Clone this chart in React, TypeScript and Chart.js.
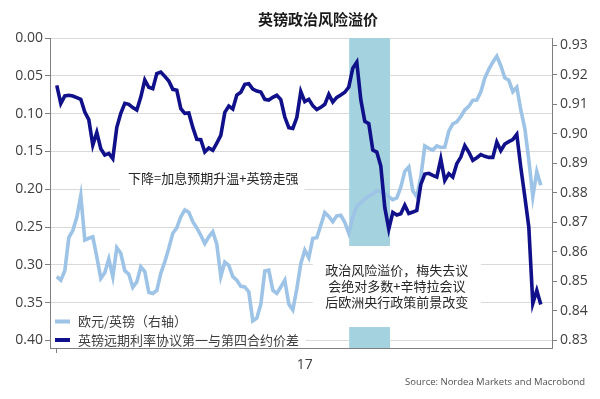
import { useEffect, useRef } from 'react';
import { Chart, registerables } from 'chart.js';

Chart.register(...registerables);

const CJK = '"Noto Sans CJK SC", "Noto Sans", sans-serif';
const NUM = '"Open Sans", "Noto Sans", sans-serif';
const NARROW = '"Liberation Sans Narrow", "Open Sans", sans-serif';

const TITLE = '英镑政治风险溢价';
const NAME_LIGHT = '欧元/英镑（右轴）';
const NAME_DARK = '英镑远期利率协议第一与第四合约价差';
const NOTE_1 = '下降=加息预期升温+英镑走强';
const NOTE_2 = ['政治风险溢价，梅失去议', '会绝对多数+辛特拉会议', '后欧洲央行政策前景改变'];
const SOURCE = 'Source: Nordea Markets and Macrobond';

const LEFT_TICKS = [0, 0.05, 0.1, 0.15, 0.2, 0.25, 0.3, 0.35, 0.4];
const RIGHT_TICKS = [0.83, 0.84, 0.85, 0.86, 0.87, 0.88, 0.89, 0.9, 0.91, 0.92, 0.93];
const X_TICKS = [0, 62];
const X_TICK_LABELS = ['', '17'];
const BAND = [73.1, 83.3];

// FRA 1st - 4th contract spread (left axis, reversed)
const SPREAD = [
  0.0626, 0.0868, 0.0767, 0.0758, 0.0767, 0.0789, 0.0811, 0.0979, 0.1080, 0.1416,
  0.1248, 0.1464, 0.1548, 0.1526, 0.1596, 0.1182, 0.0996, 0.0864, 0.0877, 0.0921,
  0.0953, 0.0781, 0.0556, 0.0652, 0.0670, 0.0471, 0.0450, 0.0507, 0.0569, 0.0679,
  0.0692, 0.0934, 0.0996, 0.0992, 0.1182, 0.1340, 0.1345, 0.1508, 0.1455, 0.1486,
  0.1389, 0.1287, 0.0983, 0.0900, 0.0939, 0.0754, 0.0718, 0.0613, 0.0604, 0.0675,
  0.0701, 0.0714, 0.0811, 0.0820, 0.0785, 0.0758, 0.0815, 0.1045, 0.1186, 0.1195,
  0.1053, 0.0709, 0.0842, 0.0811, 0.0895, 0.0947, 0.0917, 0.0877, 0.0745, 0.0847,
  0.0785, 0.0754, 0.0718, 0.0648, 0.0400, 0.0320, 0.0815, 0.1102, 0.1133, 0.1482,
  0.1508, 0.1694, 0.2244, 0.2527, 0.2306, 0.2342, 0.2324, 0.2210, 0.2320, 0.2302,
  0.2280, 0.1936, 0.1800, 0.1790, 0.1817, 0.1839, 0.1601, 0.1883, 0.1794, 0.1839,
  0.1662, 0.1575, 0.1424, 0.1508, 0.1618, 0.1583, 0.1543, 0.1565, 0.1579, 0.1579,
  0.1376, 0.1490, 0.1403, 0.1371, 0.1345, 0.1274, 0.1711, 0.2095, 0.2500, 0.3510,
  0.3338, 0.3524,
];

// EUR/GBP (right axis)
const EURGBP = [
  0.8515, 0.8503, 0.8535, 0.8647, 0.8671, 0.8716, 0.8790, 0.8639, 0.8645, 0.8650,
  0.8582, 0.8509, 0.8528, 0.8575, 0.8515, 0.8613, 0.8594, 0.8535, 0.8523, 0.8479,
  0.8497, 0.8548, 0.8532, 0.8462, 0.8458, 0.8468, 0.8526, 0.8565, 0.8611, 0.8662,
  0.8680, 0.8718, 0.8741, 0.8733, 0.8701, 0.8680, 0.8655, 0.8627, 0.8650, 0.8667,
  0.8625, 0.8516, 0.8564, 0.8553, 0.8515, 0.8503, 0.8482, 0.8480, 0.8463, 0.8365,
  0.8374, 0.8421, 0.8534, 0.8537, 0.8469, 0.8458, 0.8480, 0.8503, 0.8422, 0.8402,
  0.8473, 0.8559, 0.8605, 0.8579, 0.8645, 0.8647, 0.8689, 0.8732, 0.8719, 0.8701,
  0.8721, 0.8723, 0.8699, 0.8662, 0.8717, 0.8753, 0.8765, 0.8778, 0.8788, 0.8796,
  0.8807, 0.8803, 0.8795, 0.8786, 0.8776, 0.8782, 0.8818, 0.8872, 0.8887, 0.8806,
  0.8786, 0.8853, 0.8958, 0.8950, 0.8944, 0.8958, 0.8953, 0.8954, 0.9008, 0.9033,
  0.9040, 0.9058, 0.9080, 0.9092, 0.9113, 0.9114, 0.9141, 0.9188, 0.9218, 0.9242,
  0.9262, 0.9230, 0.9189, 0.9181, 0.9142, 0.9157, 0.9080, 0.9018, 0.8911, 0.8786,
  0.8871, 0.8825,
];

const DARK = '#10108a';
const LIGHT = '#9dc3e6';
const BAND_COLOR = '#a5d2df';
const AXIS = '#7f7f7f';
const GRID = '#d9d9d9';
const TEXT = '#262626';

const decor = {
  id: 'decor',
  beforeDatasetsDraw(chart: any) {
    const { ctx, chartArea, scales } = chart;
    const x = scales.x;
    const yl = scales.yLeft;
    ctx.save();
    // shaded period
    const bx0 = x.getPixelForValue(BAND[0]);
    const bx1 = x.getPixelForValue(BAND[1]);
    ctx.fillStyle = BAND_COLOR;
    ctx.fillRect(bx0, chartArea.top, bx1 - bx0, chartArea.bottom - chartArea.top);

    // note 1 box + text
    const n1x = x.getPixelForValue(17.8);
    const n1y = yl.getPixelForValue(0.185);
    ctx.font = `13px ${CJK}`;
    const w1 = ctx.measureText(NOTE_1).width;
    ctx.fillStyle = '#ffffff';
    ctx.fillRect(n1x - 8, n1y - 15, w1 + 14, 30);
    ctx.fillStyle = TEXT;
    ctx.textAlign = 'left';
    ctx.textBaseline = 'middle';
    ctx.fillText(NOTE_1, n1x, n1y);

    // note 2 box + text
    const n2x = x.getPixelForValue(85);
    const n2y = yl.getPixelForValue(0.328);
    ctx.fillStyle = '#ffffff';
    ctx.fillRect(n2x - 84, n2y - 40, 168, 81);
    ctx.fillStyle = TEXT;
    ctx.textAlign = 'center';
    NOTE_2.forEach((line, k) => ctx.fillText(line, n2x, n2y + (k - 1) * 16));

    // legend box
    const lx = chartArea.left;
    ctx.fillStyle = '#ffffff';
    ctx.fillRect(lx + 1, 312, 255, chartArea.bottom - 312 - 1);
    const rows = [
      { name: NAME_LIGHT, color: LIGHT, y: 321.5 },
      { name: NAME_DARK, color: DARK, y: 340 },
    ];
    rows.forEach((r) => {
      ctx.strokeStyle = r.color;
      ctx.lineWidth = 4;
      ctx.beginPath();
      ctx.moveTo(lx + 5, r.y);
      ctx.lineTo(lx + 20, r.y);
      ctx.stroke();
      ctx.fillStyle = '#404040';
      ctx.textAlign = 'left';
      ctx.textBaseline = 'middle';
      ctx.font = `13px ${CJK}`;
      ctx.fillText(r.name, lx + 28, r.y);
    });
    ctx.restore();
  },
  afterDraw(chart: any) {
    const { ctx } = chart;
    ctx.save();
    ctx.fillStyle = '#1a1a1a';
    ctx.font = `bold 15px ${CJK}`;
    ctx.textAlign = 'center';
    ctx.textBaseline = 'middle';
    ctx.fillText(TITLE, 318, 19);

    ctx.font = `12px ${NARROW}`;
    const mw = ctx.measureText(SOURCE).width;
    const size = (12 * 180) / mw;
    ctx.font = `${size.toFixed(2)}px ${NARROW}`;
    ctx.fillStyle = '#505050';
    ctx.textAlign = 'left';
    ctx.fillText(SOURCE, 405, 382);
    ctx.restore();
  },
};

export default function App() {
  const ref = useRef<HTMLCanvasElement>(null);
  useEffect(() => {
    const canvas = ref.current as HTMLCanvasElement;
    const chart = new Chart(canvas, {
      type: 'line',
      data: {
        datasets: [
          {
            label: NAME_DARK,
            data: SPREAD.map((v, i) => ({ x: i, y: v })),
            yAxisID: 'yLeft',
            borderColor: DARK,
            borderWidth: 3.6,
            pointRadius: 0,
            tension: 0,
          },
          {
            label: NAME_LIGHT,
            data: EURGBP.map((v, i) => ({ x: i, y: v })),
            yAxisID: 'yRight',
            borderColor: LIGHT,
            borderWidth: 3.6,
            pointRadius: 0,
            tension: 0,
          },
        ],
      },
      options: {
        animation: false,
        responsive: false,
        devicePixelRatio: 1,
        events: [],
        layout: { padding: { top: 38, left: 0, right: 0, bottom: 0 } },
        plugins: {
          legend: { display: false },
          title: { display: false },
          tooltip: { enabled: false },
        },
        scales: {
          x: {
            type: 'linear',
            min: -1.7,
            max: 123.8,
            afterBuildTicks: (s: any) => {
              s.ticks = X_TICKS.map((v) => ({ value: v }));
            },
            afterFit: (s: any) => {
              s.height = 51;
            },
            ticks: {
              autoSkip: false,
              maxRotation: 0,
              padding: 4,
              color: '#404040',
              font: { family: NUM, size: 14 },
              callback: (v: any) => X_TICK_LABELS[X_TICKS.indexOf(Number(v))] ?? '',
            },
            grid: {
              drawOnChartArea: false,
              drawTicks: true,
              tickLength: 5,
              tickColor: (c: any) => (c.index === 0 ? AXIS : 'rgba(0,0,0,0)'),
            },
            border: { display: true, color: AXIS, width: 1 },
          },
          yLeft: {
            type: 'linear',
            position: 'left',
            reverse: true,
            min: 0,
            max: 0.41,
            afterBuildTicks: (s: any) => {
              s.ticks = LEFT_TICKS.map((v) => ({ value: v }));
            },
            afterFit: (s: any) => {
              s.width = 50;
            },
            ticks: {
              padding: 2,
              color: '#404040',
              font: { family: NUM, size: 14 },
              callback: (v: any) => Number(v).toFixed(2),
            },
            grid: { color: GRID, lineWidth: 1, tickLength: 5, tickColor: AXIS },
            border: { display: true, color: AXIS, width: 1 },
          },
          yRight: {
            type: 'linear',
            position: 'right',
            min: 0.8273,
            max: 0.9324,
            afterBuildTicks: (s: any) => {
              s.ticks = RIGHT_TICKS.map((v) => ({ value: v }));
            },
            afterFit: (s: any) => {
              s.width = 48;
            },
            ticks: {
              padding: 3,
              color: '#404040',
              font: { family: NUM, size: 14 },
              callback: (v: any) => Number(v).toFixed(2),
            },
            grid: { drawOnChartArea: false, tickLength: 5, tickColor: AXIS },
            border: { display: true, color: AXIS, width: 1 },
          },
        },
      } as any,
      plugins: [decor],
    });
    return () => chart.destroy();
  }, []);
  return (
    <div style={{ position: 'absolute', left: 0, top: 0, width: 600, height: 399, background: '#ffffff' }}>
      <canvas ref={ref} width={600} height={399} style={{ display: 'block', width: 600, height: 399 }} />
    </div>
  );
}
